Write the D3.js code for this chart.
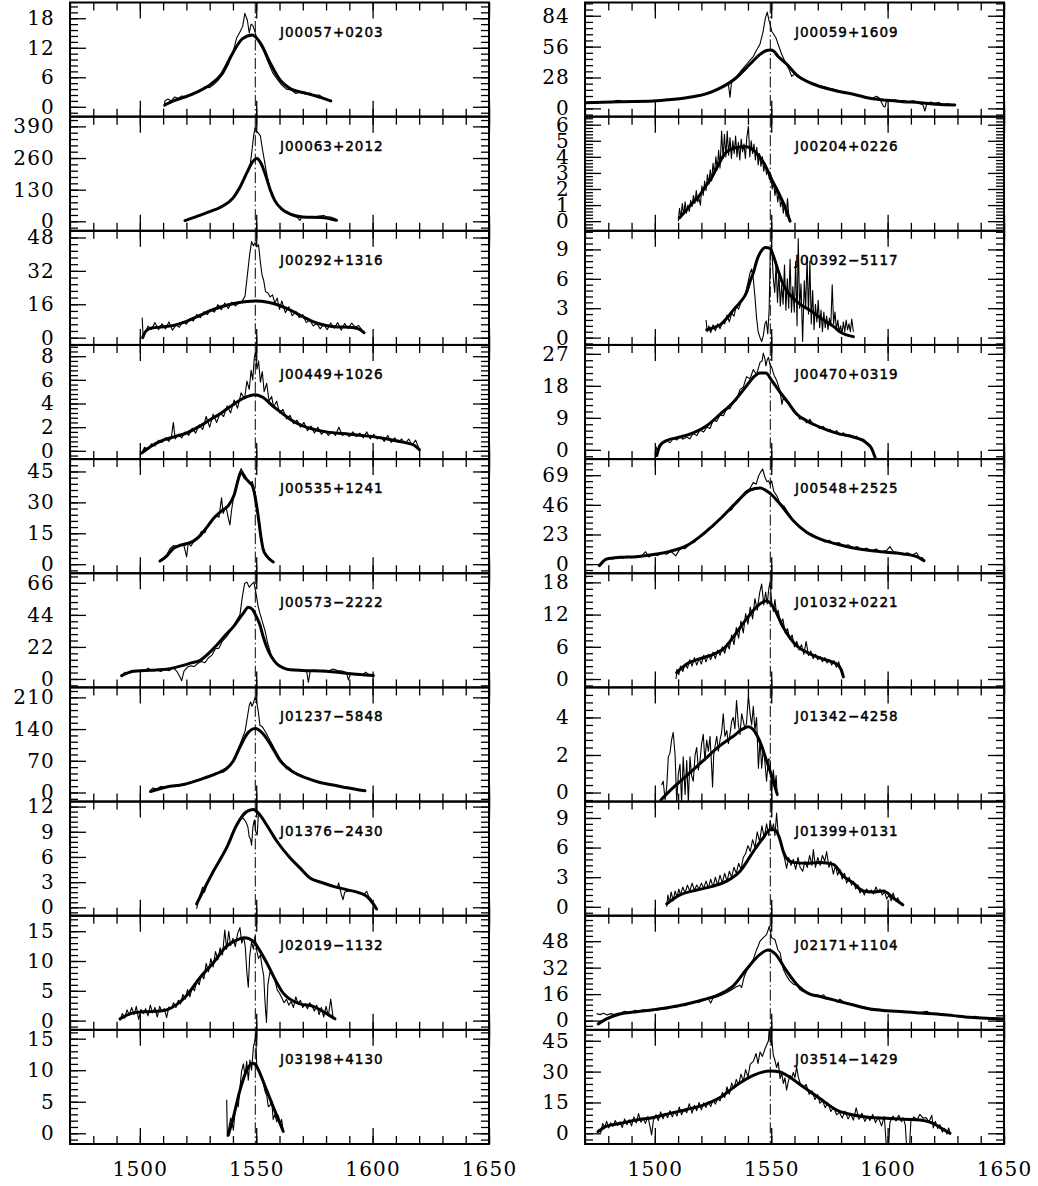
<!DOCTYPE html>
<html lang="en">
<head>
<meta charset="UTF-8">
<title>C IV profiles</title>
<script src="https://cdn.jsdelivr.net/npm/d3@7"></script>
<style>
  body { margin: 0; background: #fff; }
  .frame { fill: none; stroke: #000; stroke-width: 2px; }
  .spec { fill: none; stroke: #000; stroke-width: 1.1px; stroke-linejoin: round; }
  .fit { fill: none; stroke: #000; stroke-width: 3px; stroke-linejoin: round; stroke-linecap: round; }
  .civ { stroke: #000; stroke-width: 1px; stroke-dasharray: 11 3 1.5 3; }
  .tick line { stroke: #000; stroke-width: 1.3px; }
  .ylab text, .xlab text { font-family: "DejaVu Serif", serif; font-size: 20px; letter-spacing: 1.2px; fill: #000; }
  .name { font-family: "DejaVu Sans", sans-serif; font-size: 13.5px; letter-spacing: 1px; fill: #000; stroke: #000; stroke-width: 0.45px; }
</style>
</head>
<body>
<script>
// panel order: left column top->bottom, then right column top->bottom
const names = [
  'J00057+0203', 'J00063+2012', 'J00292+1316', 'J00449+1026', 'J00535+1241',
  'J00573\u22122222', 'J01237\u22125848', 'J01376\u22122430', 'J02019\u22121132', 'J03198+4130',
  'J00059+1609', 'J00204+0226', 'J00392\u22125117', 'J00470+0319', 'J00548+2525',
  'J01032+0221', 'J01342\u22124258', 'J01399+0131', 'J02171+1104', 'J03514\u22121429'
];
const yRanges = [
  [-2.0, 21.2], [-39, 430], [-3.5, 51.2], [-0.7, 8.95], [-4.4, 51],
  [-5.8, 72.6], [-20, 232], [-1.0, 12.6], [-1.55, 17.6], [-1.7, 16.4],
  [-7.5, 96], [-0.6, 6.5], [-0.75, 10.9], [-2.6, 29.5], [-7.1, 81.5],
  [-1.56, 19.7], [-0.48, 5.6], [-0.9, 10.66], [-5.6, 63.4], [-5.2, 50.3]
];
const yTickSteps = [6, 130, 16, 2, 15, 22, 70, 3, 5, 5, 28, 1, 3, 9, 23, 6, 2, 3, 16, 15];
const xRange = [1470, 1650];
const xMajorTicks = [1500, 1550, 1600, 1650];
const lineCenter = 1549.6;

// ---- spectra (thin) and fits (thick), [wavelength, flux]
const thin_J00057 = [[1510.4,0.0],[1510.8,1.2],[1512,1.6],[1513.5,1.2],[1515,2.0],[1516.5,1.7],[1518,2.2],[1520,2.0],[1522,2.6],[1524,3.0],[1526,3.3],[1528,4.1],[1530,3.9],[1532,4.6],[1534,5.6],[1536,6.8],[1538,8.6],[1540,11.0],[1541.6,14.0],[1543,15.2],[1544.2,16.4],[1545.1,19.0],[1546.2,17.6],[1547,15.0],[1547.8,16.8],[1548.6,16.5],[1549.5,15.2],[1550.2,14.0],[1551.5,12.8],[1553,11.6],[1555,9.2],[1557,7.0],[1559,5.6],[1561,4.4],[1563,3.6],[1565,3.4],[1567,2.7],[1569,3.0],[1571,2.6],[1573,2.8],[1575,2.3],[1577,2.4],[1579,1.8],[1581,1.4],[1582.4,1.0]];
const fit_J00057 = [[1510.8,0.4],[1515,1.3],[1520,2.1],[1525,3.1],[1530,4.4],[1535,6.6],[1540,11.0],[1544,13.8],[1548.3,14.6],[1552,12.8],[1556,8.9],[1560,5.6],[1565,3.6],[1570,2.9],[1575,2.3],[1582,1.2]];

const thin_J00063 = [[1519.4,4],[1521,10],[1523,16],[1525,22],[1527,30],[1529,34],[1531,42],[1533,48],[1535,56],[1537,68],[1539,82],[1541,104],[1543,138],[1545,178],[1546.5,210],[1547.5,240],[1548.3,300],[1548.8,345],[1549.5,385],[1550.2,368],[1551,362],[1551.8,350],[1552.6,300],[1553.5,250],[1554.5,195],[1555.5,150],[1557,105],[1559,72],[1561,50],[1563,36],[1565,26],[1567,22],[1568.8,4],[1569.5,18],[1571,20],[1573,20],[1575,19],[1577,22],[1579,24],[1580,20],[1582,18],[1584.5,8]];
const fit_J00063 = [[1519.4,3],[1525,22],[1530,40],[1535,60],[1540,95],[1543,140],[1546,200],[1548.5,245],[1550.2,258],[1552,240],[1554,190],[1556,130],[1558,85],[1561,50],[1565,28],[1570,18],[1578,16],[1584.5,4]];

const thin_J00292 = [[1501,9.6],[1501.4,1.0],[1502.5,3.0],[1503.5,5.5],[1505,4.0],[1506.5,7.2],[1508,3.8],[1509.5,6.6],[1511,4.2],[1512.5,7.5],[1514,3.6],[1515.5,6.0],[1517,5.0],[1518.5,7.8],[1520,6.4],[1521.5,9.0],[1523,8.0],[1524.5,11.2],[1526,9.6],[1527.5,12.4],[1529,11.0],[1530.5,13.6],[1532,12.2],[1533.5,15.8],[1535,13.4],[1536.5,16.6],[1538,14.0],[1539.5,17.0],[1541,15.2],[1542.5,16.6],[1544,17.5],[1545.2,20.0],[1546.2,30],[1547.2,40],[1548,46],[1548.8,44],[1549.5,45.5],[1550.3,43.5],[1551,44.5],[1551.8,36],[1552.5,30],[1553.2,27.5],[1554,22],[1555,21.5],[1556,19.5],[1557,20.5],[1558,16.5],[1559,19],[1560,13.5],[1561,17.6],[1562.5,12.0],[1564,14.8],[1565.5,10.5],[1567,12.6],[1568.5,9.6],[1570,11.0],[1571.5,7.2],[1573,8.5],[1574.5,5.6],[1576,6.8],[1577.5,4.2],[1579,6.4],[1580.5,3.8],[1582,7.0],[1583.5,4.5],[1585,7.2],[1586.5,3.6],[1588,6.8],[1589.5,4.4],[1591,7.0],[1592.5,5.0],[1594,5.8],[1595.5,3.6],[1596.3,2.2]];
const fit_J00292 = [[1501.2,0],[1502.5,3.0],[1505,4.6],[1510,5.2],[1515,6.0],[1520,7.8],[1525,10.2],[1530,12.8],[1535,14.8],[1540,16.2],[1545,17.2],[1550,17.6],[1555,17.0],[1560,15.4],[1565,13.0],[1570,10.0],[1575,7.4],[1580,5.8],[1585,5.1],[1590,5.0],[1594,4.2],[1596.3,2.4]];

const thin_J00449 = [[1500.8,-0.2],[1502,0.3],[1503.5,0.1],[1505,0.6],[1506.5,0.4],[1508,0.9],[1509.5,0.7],[1511,1.1],[1512.5,0.8],[1513.6,1.2],[1514.4,2.4],[1515.2,1.0],[1516.5,1.4],[1518,1.1],[1519.5,1.6],[1521,1.3],[1522.5,1.9],[1524,1.5],[1525.5,2.2],[1527,1.8],[1528.5,2.9],[1530,2.0],[1531.5,3.1],[1533,2.4],[1534.5,3.2],[1536,2.9],[1537.5,3.8],[1539,3.2],[1540.5,4.3],[1542,3.6],[1543.5,4.9],[1545,4.4],[1546,5.9],[1547,5.2],[1547.8,6.8],[1548.5,6.0],[1549.2,7.9],[1549.7,8.3],[1550.3,6.9],[1551,7.6],[1551.8,5.8],[1552.6,6.7],[1553.4,5.0],[1554.5,5.7],[1555.5,4.2],[1556.6,4.6],[1557.5,3.7],[1558.8,4.2],[1560,3.2],[1561.5,3.5],[1563,2.7],[1564.5,3.0],[1566,2.3],[1567.5,2.6],[1569,2.0],[1570.5,2.4],[1572,1.7],[1573.5,2.1],[1575,1.5],[1576.5,2.0],[1578,1.4],[1579.5,1.7],[1581,1.3],[1582.5,1.6],[1584,1.3],[1585.5,2.0],[1587,1.3],[1588.5,1.5],[1590,1.2],[1591.5,1.6],[1593,1.2],[1594.5,1.5],[1596,1.1],[1597.5,1.6],[1599,1.0],[1600.5,1.4],[1602,1.0],[1603.5,1.2],[1605,0.8],[1606.5,1.3],[1608,0.7],[1609.5,1.1],[1611,0.7],[1612.5,1.0],[1614,0.6],[1615.5,1.0],[1617,0.5],[1618.5,0.9],[1620.1,0.1]];
const fit_J00449 = [[1500.8,-0.2],[1505,0.4],[1510,0.9],[1515,1.2],[1520,1.5],[1525,2.0],[1530,2.6],[1535,3.2],[1540,3.9],[1545,4.5],[1549.5,4.75],[1553,4.5],[1557,3.8],[1561,3.2],[1565,2.6],[1570,2.1],[1575,1.8],[1580,1.6],[1590,1.4],[1600,1.2],[1605,1.05],[1610,0.85],[1615,0.65],[1618,0.45],[1620.1,0.1]];

const thin_J00535 = [[1508.7,1.6],[1510,2.8],[1511.5,4.4],[1513,7.6],[1514.4,9.0],[1516,8.6],[1517.5,9.4],[1519,8.8],[1520.1,3.5],[1520.8,10.4],[1522,8.8],[1523.5,11.8],[1525,12.8],[1526.5,16.0],[1528,15.2],[1529.5,19.8],[1531,21.4],[1532.5,23.6],[1534,22.8],[1535.1,32.2],[1535.8,24.6],[1537,28.0],[1538,22.4],[1538.7,19.0],[1539.5,27.0],[1540.5,34.0],[1541.5,38.5],[1542.5,43.5],[1543.5,46.4],[1544.5,44.2],[1545.5,42.6],[1546.5,40.4],[1547.5,38.8],[1548.3,40.2],[1549,37.0],[1549.8,33.0],[1550.5,25.0],[1551.3,17.4],[1552,11.6],[1553,6.8],[1554,4.6],[1555,3.4],[1556,2.8],[1557.3,1.0]];
const fit_J00535 = [[1508.7,1.5],[1511.5,3.9],[1514.4,7.6],[1517,9.0],[1520,9.9],[1523,11.2],[1526,14.0],[1529,18.2],[1532,22.6],[1535,25.8],[1538,28.4],[1540.5,33.6],[1542.5,42.0],[1543.5,44.8],[1545,42.2],[1547,39.8],[1548.5,37.6],[1549.8,31.0],[1551,22.0],[1552,13.5],[1553,7.2],[1554.5,4.0],[1557.3,1.1]];

const thin_J00573 = [[1492.2,2.0],[1493.5,4.5],[1495,4.0],[1496.5,5.8],[1498,5.0],[1500,6.0],[1502,5.2],[1503.5,7.4],[1505,5.6],[1507,6.4],[1509,5.2],[1511,6.8],[1512.5,5.6],[1514.4,7.6],[1516,5.0],[1517.2,1.5],[1518,-1.2],[1519,5.6],[1520.5,8.2],[1522,9.0],[1523.5,8.6],[1525,10.8],[1526.5,12.0],[1528,11.2],[1529.5,14.6],[1531,16.4],[1532.5,20.8],[1534,21.2],[1535.5,26.0],[1537,28.6],[1538.5,32.0],[1540,35.4],[1541.5,40.0],[1543,44.0],[1544,56.0],[1545,65.5],[1546,66.5],[1547,63.0],[1548,65.0],[1549,66.5],[1549.9,59.0],[1550.8,50.0],[1551.6,45.0],[1552.5,40.0],[1553.8,33.0],[1555,24.0],[1556.5,16.0],[1558,11.6],[1560,8.4],[1562,7.0],[1564,6.0],[1566,6.6],[1568,5.6],[1570,6.4],[1571.7,5.0],[1572.4,-2.3],[1573.2,5.4],[1575,6.2],[1577,5.4],[1579,6.0],[1581,5.4],[1583,6.8],[1585,5.8],[1587,5.4],[1588.8,4.2],[1589.6,-0.7],[1590.5,3.6],[1592,3.0],[1594,3.8],[1595.5,2.6],[1597,4.6],[1598.5,3.0],[1600.3,2.0]];
const fit_J00573 = [[1492.2,2.3],[1497.2,5.3],[1502,5.8],[1507,6.2],[1511.5,6.7],[1515,7.8],[1518.7,9.3],[1522,11.0],[1525.8,12.7],[1530,18.2],[1533,23.2],[1537,30.5],[1540.2,35.9],[1542.5,41.0],[1544.5,45.2],[1546.6,49.3],[1548.5,47.5],[1550,43.0],[1551.6,37.0],[1553,29.0],[1554.5,22.0],[1556.6,15.0],[1558.8,10.4],[1561.6,7.6],[1564.5,6.3],[1570,5.8],[1580,5.3],[1588.8,3.9],[1594.6,3.0],[1600.3,2.3]];

const thin_J01237 = [[1504.6,4],[1505.5,10],[1507.2,8],[1509,13],[1511.5,12],[1513.5,15],[1515.1,13],[1517,17],[1518.7,16],[1520.5,19],[1522.3,22],[1524,25],[1525.8,27],[1527.5,31],[1529.4,36],[1531,38],[1533,42],[1534.5,47],[1535.5,44],[1537.3,50],[1538.7,58],[1540.2,72],[1541.5,88],[1543,106],[1544.2,122],[1545.2,135],[1546,160],[1547,192],[1547.6,200],[1548.2,190],[1548.8,198],[1549.5,210],[1550.2,200],[1550.9,178],[1551.6,148],[1552.4,146],[1553,142],[1554.2,132],[1555.2,122],[1556.5,110],[1558,95],[1560.2,75],[1562,62],[1563.1,52],[1564,56],[1565.9,45],[1568,40],[1570,34],[1572,31],[1574.5,27],[1577.4,21],[1580.3,19],[1583.1,16],[1586,13],[1588.9,12],[1591.7,9],[1594.6,6],[1596.7,3]];
const fit_J01237 = [[1504.6,2.2],[1511.5,12.0],[1518.7,17.5],[1525.8,28.5],[1533,42],[1537.3,53],[1540.2,70],[1543,100],[1545.9,128],[1549.5,141],[1553,129],[1555.9,108],[1560.2,71],[1565.9,45],[1571.7,31.7],[1577.4,22],[1583.1,16.5],[1588.9,10.5],[1596.7,3.7]];

const thin_J01376 = [[1524.4,-0.2],[1525.2,0.8],[1526,1.6],[1527,2.4],[1527.8,1.8],[1528.7,2.6],[1530,3.5],[1531.6,4.4],[1533,5.0],[1534.4,5.8],[1536,6.5],[1537.3,7.2],[1538.8,8.1],[1540.2,8.9],[1541.6,9.8],[1543,10.5],[1544.5,10.6],[1545.5,10.2],[1546.4,9.6],[1547,8.4],[1547.6,8.1],[1548,7.4],[1548.6,9.6],[1549.2,10.4],[1549.8,9.0],[1550.4,8.6],[1550.9,10.9],[1551.6,11.0],[1553,10.4],[1554.5,9.8],[1556.5,8.8],[1558.8,7.9],[1561.5,6.9],[1564.5,5.9],[1566.5,5.3],[1568.8,4.6],[1571,4.0],[1573.1,3.5],[1575,3.3],[1577,3.1],[1579,2.9],[1581,2.7],[1583.1,2.6],[1584.8,2.3],[1585.4,2.9],[1586.5,1.6],[1587.3,0.9],[1588,1.8],[1590,2.0],[1592,1.9],[1594.6,1.7],[1596.5,1.6],[1597.5,1.9],[1598.3,1.3],[1599.3,1.0],[1600.3,0.4],[1601.7,-0.2]];
const fit_J01376 = [[1524.4,0.4],[1527.3,2.0],[1531.6,4.3],[1537.3,7.1],[1541.6,9.8],[1545.9,11.4],[1548.8,11.65],[1551.6,11.0],[1554.5,9.8],[1558.8,7.9],[1564.5,5.9],[1568.8,4.7],[1573.1,3.5],[1578.8,2.9],[1583.1,2.5],[1588.8,2.1],[1594.6,1.7],[1597.5,1.3],[1600.3,0.4],[1601.7,-0.2]];

const thin_J02019 = [[1491.5,0.0],[1492.5,1.2],[1493.5,0.4],[1494.5,1.8],[1495.5,0.9],[1496.5,2.2],[1497.5,1.0],[1498.5,2.4],[1499.5,0.2],[1500.5,1.9],[1501.5,1.2],[1502.5,2.0],[1503.5,0.8],[1504.5,2.6],[1505.5,1.3],[1506.5,2.2],[1507.5,0.6],[1508.5,2.4],[1509.5,1.5],[1510.5,2.0],[1511.5,0.5],[1512.5,2.3],[1513.5,2.0],[1514.5,3.0],[1515.5,2.2],[1516.5,3.4],[1517.5,2.8],[1518.5,4.4],[1519.5,3.6],[1520.5,5.2],[1521.5,4.0],[1522.5,5.6],[1523.5,5.0],[1524.5,6.8],[1525.5,6.0],[1526.5,7.8],[1527.5,7.0],[1528.5,9.6],[1529.5,8.2],[1530.5,10.4],[1531.5,9.0],[1532.5,11.6],[1533.5,10.2],[1534.5,12.2],[1535.5,11.0],[1536.5,15.2],[1537.3,12.0],[1538.2,15.0],[1539,12.6],[1540,13.8],[1541,12.4],[1542,14.6],[1543,15.6],[1543.8,13.0],[1544.6,14.0],[1545.3,12.4],[1546,8.0],[1546.6,5.6],[1547.2,10.8],[1548,13.2],[1548.8,12.0],[1549.5,14.2],[1550.2,11.8],[1551,10.4],[1551.8,11.0],[1552.5,9.0],[1553.2,7.6],[1553.8,3.0],[1554.4,-0.3],[1555,6.0],[1555.9,8.2],[1557,7.6],[1558,6.8],[1559,5.2],[1560,4.6],[1561,3.8],[1562,3.0],[1563,3.6],[1564,2.6],[1565,3.2],[1566,2.2],[1567,4.0],[1568,2.8],[1569,3.4],[1570,2.2],[1571,2.8],[1572,2.0],[1573,3.0],[1574,2.4],[1575,1.6],[1576,2.6],[1577,1.0],[1578,2.2],[1579,0.6],[1580,2.4],[1581,0.8],[1582,3.6],[1583,0.6],[1583.8,0.3]];
const fit_J02019 = [[1491.5,0.3],[1497.2,1.3],[1502.9,1.5],[1508.7,1.6],[1511.5,1.8],[1515.5,2.6],[1520.1,4.2],[1525.8,7.2],[1531.6,9.7],[1537.3,12.5],[1541.5,13.5],[1545,13.9],[1548.8,13.3],[1551.6,11.7],[1554.5,9.7],[1558.8,6.4],[1561.6,4.6],[1564.5,3.6],[1568.8,2.8],[1574.5,2.4],[1578.8,1.5],[1583.8,0.3]];

const thin_J03198 = [[1537.3,5.3],[1537.6,-0.5],[1538.3,1.0],[1539,2.4],[1539.6,1.6],[1540.2,0.5],[1540.9,3.4],[1541.6,5.0],[1542.3,4.2],[1543,7.2],[1543.7,9.8],[1544.5,11.0],[1545.2,9.0],[1545.9,11.4],[1546.6,8.4],[1547.3,11.6],[1548,10.0],[1548.8,13.7],[1549.5,14.8],[1549.8,15.8],[1550.2,11.0],[1550.9,10.4],[1551.6,9.5],[1552.3,8.8],[1553,8.0],[1553.8,6.6],[1554.5,6.0],[1555.2,4.2],[1555.9,4.4],[1556.6,5.3],[1557.3,2.2],[1558,3.0],[1558.8,1.8],[1559.5,2.8],[1560.2,1.4],[1560.9,2.2],[1561.6,0.4]];
const fit_J03198 = [[1538,-0.3],[1540.2,2.6],[1543,6.8],[1545.9,10.0],[1548.5,11.1],[1549.8,10.8],[1551.6,9.5],[1554.5,6.8],[1557.3,4.2],[1560.2,1.6],[1561.6,0.3]];

const thin_J00059 = [[1470,4.6],[1472,5.8],[1475,5.0],[1478,6.2],[1481,5.2],[1484,7.4],[1487,6.0],[1490,6.6],[1493,5.6],[1496,6.4],[1499,7.2],[1502,6.6],[1505,8.2],[1508,7.8],[1511,9.2],[1514,9.0],[1517,11.0],[1520,11.6],[1522.3,13.8],[1524,14.2],[1526,16.4],[1528,17.8],[1530,21.0],[1531.6,22.0],[1532.3,10.0],[1533,24.8],[1535.1,28.4],[1537,34.0],[1539.4,40.0],[1541,44.0],[1542.3,47.0],[1543.5,52.0],[1545.2,58.4],[1546.6,70.6],[1547.5,82.0],[1548.3,87.3],[1549,80.0],[1549.5,76.7],[1550.2,70.0],[1550.9,67.6],[1552,64.0],[1553,58.0],[1554,52.0],[1554.5,49.0],[1556,42.0],[1557.5,36.0],[1558.8,29.0],[1560,31.0],[1561.5,28.4],[1563,26.4],[1565,25.0],[1567,23.6],[1569,22.4],[1571,20.4],[1573,19.6],[1575,18.2],[1577,17.2],[1579,16.0],[1581,14.8],[1583,14.0],[1585,12.6],[1587,12.0],[1589,10.6],[1591,10.0],[1593,9.0],[1595.3,11.0],[1596.5,9.2],[1598.2,2.0],[1598.9,1.2],[1599.6,7.6],[1601,6.8],[1603,7.8],[1605,6.6],[1607,7.2],[1609,6.0],[1611,6.8],[1613,5.4],[1615.2,3.0],[1616,-2.4],[1616.8,4.0],[1618.5,5.8],[1620,4.6],[1622,5.4],[1624,3.6],[1626,4.2],[1628,3.2],[1628.9,3.6]];
const fit_J00059 = [[1470,5.2],[1485,6.1],[1499.4,6.7],[1507,8.0],[1513.7,9.7],[1518,11.2],[1522.3,13.4],[1528,18.3],[1535.1,28.0],[1539.4,37.0],[1542.3,43.2],[1545.2,49.0],[1548,52.5],[1549.5,53.0],[1551,52.0],[1553,47.0],[1556.6,40.2],[1560.9,30.4],[1568.1,21.9],[1578.1,15.8],[1585.3,12.8],[1592.4,9.1],[1599.6,7.3],[1606.7,6.1],[1613.9,5.2],[1621.1,3.7],[1628.9,3.0]];

const thin_J00204 = [[1510.1,0.0],[1510.6,0.8],[1511.2,0.2],[1511.8,1.1],[1512.4,0.4],[1513,1.2],[1513.6,0.5],[1514.2,1.0],[1514.8,0.6],[1515.4,1.3],[1516,0.9],[1516.6,1.6],[1517.2,1.1],[1517.8,1.9],[1518.4,1.2],[1519,1.4],[1519.6,1.0],[1520.2,2.2],[1520.8,1.6],[1521.4,2.5],[1522,1.9],[1522.6,2.9],[1523.2,2.3],[1523.8,3.2],[1524.4,2.5],[1525,3.6],[1525.6,2.9],[1526.2,4.0],[1526.8,3.2],[1527.4,4.4],[1528,3.3],[1528.7,5.6],[1529.3,3.9],[1529.9,5.4],[1530.5,4.0],[1531.1,5.6],[1531.7,4.1],[1532.3,5.2],[1532.9,3.9],[1533.5,5.0],[1534.1,4.2],[1534.7,5.3],[1535.3,4.0],[1535.9,4.9],[1536.5,3.8],[1537.1,5.1],[1537.7,4.3],[1538.3,4.8],[1538.9,3.9],[1539.5,5.2],[1540.2,5.9],[1540.8,4.0],[1541.4,5.0],[1542,4.2],[1542.6,4.8],[1543.2,3.8],[1543.8,4.6],[1544.4,3.5],[1545,4.2],[1545.6,3.4],[1546.2,4.0],[1546.8,3.1],[1547.4,3.6],[1548,2.9],[1548.6,3.2],[1549.2,2.6],[1549.8,2.9],[1550.4,2.0],[1551,2.4],[1551.6,1.6],[1552.2,2.1],[1552.8,1.2],[1553.4,1.8],[1554,0.9],[1554.6,1.3],[1555.2,0.5],[1555.8,1.1],[1556.4,0.3],[1557,1.4],[1557.6,0.2],[1558.1,0.0]];
const fit_J00204 = [[1510.5,0.2],[1513,0.6],[1516,1.1],[1518.7,1.5],[1521.5,2.1],[1524.4,2.7],[1527.3,3.5],[1530.1,4.2],[1533,4.5],[1535.9,4.6],[1538.7,4.65],[1541.6,4.5],[1544.5,4.1],[1547.3,3.5],[1550.2,2.6],[1553,1.8],[1555.9,0.9],[1558.1,0.0]];

const thin_J00392 = [[1522,1.8],[1522.5,0.6],[1523.2,1.2],[1524,0.5],[1525,1.3],[1526,0.7],[1527,1.4],[1528,0.9],[1529,1.6],[1530,1.4],[1531,2.3],[1532,1.6],[1533,2.5],[1534,2.2],[1535,3.2],[1536,2.9],[1537,3.6],[1538,4.0],[1539,4.6],[1540,5.6],[1540.9,6.6],[1541.6,7.0],[1542.3,6.0],[1543,4.2],[1543.7,2.0],[1544.4,0.6],[1545.2,0.0],[1545.9,-0.4],[1546.6,0.2],[1547.3,1.4],[1547.9,1.7],[1548.5,0.4],[1549.1,2.8],[1549.6,8.7],[1550.2,9.4],[1550.9,6.0],[1551.5,4.6],[1552.1,7.5],[1552.7,3.6],[1553.3,6.6],[1553.9,3.2],[1554.5,5.4],[1555.1,3.4],[1555.7,7.4],[1556.3,2.8],[1556.9,6.0],[1557.5,3.0],[1558.1,8.0],[1558.7,2.6],[1559.3,5.2],[1559.9,2.6],[1560.5,7.8],[1561.1,1.2],[1561.6,10.1],[1562.2,3.0],[1562.8,5.5],[1563.5,-0.4],[1564.2,5.8],[1564.8,3.0],[1565.4,8.2],[1566,2.4],[1566.6,7.8],[1567.2,1.4],[1567.8,4.8],[1568.4,0.8],[1569,3.4],[1569.6,1.6],[1570.2,3.8],[1570.8,1.0],[1571.4,2.8],[1572,0.6],[1572.6,2.6],[1573.2,1.0],[1573.8,2.2],[1574.4,0.8],[1575,2.0],[1575.6,1.2],[1576.2,5.4],[1576.8,1.4],[1577.4,2.6],[1578,0.8],[1578.6,1.8],[1579.2,0.6],[1579.8,1.2],[1580.4,0.4],[1581,1.6],[1581.6,0.6],[1582.2,1.8],[1582.8,0.8],[1583.4,1.4],[1584,0.6],[1584.6,1.9],[1585.3,0.6]];
const fit_J00392 = [[1522.3,0.8],[1525,1.0],[1528,1.3],[1531,2.0],[1533.7,2.8],[1536.6,3.6],[1539.4,4.6],[1541,5.8],[1542.3,6.6],[1544,8.0],[1545.9,8.9],[1547.5,9.2],[1549.5,9.1],[1551,8.3],[1553,6.8],[1555.2,5.4],[1557.5,4.5],[1559.5,4.0],[1563,3.3],[1566.6,2.8],[1570,2.2],[1573.8,1.6],[1577,1.1],[1579.5,0.6],[1582,0.3],[1585.3,0.1]];

const thin_J00470 = [[1500.5,1.0],[1501,-0.4],[1502.2,1.6],[1503.5,2.2],[1505,2.6],[1506.5,2.0],[1508,3.2],[1509.5,2.8],[1510.8,3.8],[1512,3.0],[1513.7,3.6],[1515,3.1],[1516.5,4.6],[1518,4.0],[1519.4,5.6],[1521,5.0],[1522.3,6.4],[1523.7,6.0],[1525.1,8.4],[1526.5,8.0],[1528,9.8],[1529.5,9.6],[1530.9,11.6],[1532.3,11.6],[1533.7,13.4],[1535.1,14.0],[1536.6,17.0],[1538,17.6],[1539.4,20.6],[1540.9,20.0],[1542.3,22.6],[1543.7,21.2],[1545.2,24.6],[1546.1,25.0],[1546.6,27.2],[1547.3,25.6],[1547.7,23.6],[1548.3,25.4],[1548.8,26.0],[1549.5,24.0],[1550.2,23.2],[1551.2,21.0],[1552.3,19.6],[1553.1,18.0],[1553.8,16.6],[1554.6,12.8],[1555.2,14.6],[1556.6,13.4],[1558,12.6],[1559.5,10.8],[1560.9,10.4],[1562.3,8.6],[1563.8,9.0],[1565.2,7.6],[1566.6,8.6],[1568,7.0],[1569.5,6.8],[1570.9,6.0],[1572.3,6.6],[1573.8,5.4],[1575.2,5.8],[1576.7,4.8],[1578.1,5.4],[1579.5,4.2],[1581,4.8],[1582.4,3.8],[1583.8,4.2],[1585.3,3.4],[1586.7,3.8],[1588.1,2.8],[1589.6,3.0],[1591,2.0],[1592.4,1.4],[1593.3,0.0],[1594.6,-2.0]];
const fit_J00470 = [[1500.8,-1.6],[1502.2,1.2],[1505,2.6],[1510.8,3.6],[1516.5,4.8],[1522.3,6.8],[1528,10.0],[1533.7,13.4],[1539.4,18.0],[1542.3,20.4],[1545.2,21.6],[1547.7,21.6],[1550.2,19.5],[1553.8,16.2],[1556.6,13.9],[1560.9,10.1],[1565.2,8.2],[1570.9,6.4],[1578.1,4.7],[1585.3,3.6],[1589,2.8],[1591,1.9],[1593,0.5],[1594.6,-2.1]];

const thin_J00548 = [[1476.2,-1.0],[1477.5,2.2],[1479,3.6],[1480.5,5.0],[1482,4.0],[1484,5.8],[1486,4.6],[1488,6.0],[1490,5.0],[1492,6.2],[1494,5.6],[1496,9.6],[1497.5,5.4],[1499.4,8.2],[1501,6.6],[1503,8.4],[1505,7.6],[1507,9.8],[1509,6.4],[1511,12.4],[1513,12.0],[1515,15.6],[1517,17.0],[1519,20.8],[1521,23.8],[1523,27.8],[1525,29.0],[1527,33.4],[1529,36.6],[1531,40.4],[1533,42.2],[1535,48.8],[1537,52.0],[1539,56.4],[1540.9,58.8],[1542.3,63.4],[1543.5,62.0],[1544.5,68.0],[1545.3,71.0],[1546.3,73.8],[1547.3,67.4],[1548.2,64.0],[1548.8,64.7],[1549.5,62.0],[1550.2,64.6],[1551,57.0],[1552.5,52.6],[1553.8,47.0],[1555.5,45.0],[1557.5,39.2],[1559.5,34.0],[1561.5,30.8],[1563.5,27.4],[1565.2,24.4],[1567,23.8],[1569,20.6],[1570.9,19.8],[1573,17.2],[1575,18.4],[1577,15.4],[1579,16.8],[1581,13.6],[1583,15.0],[1585.3,12.4],[1587,13.6],[1589,11.0],[1591,12.4],[1593,10.2],[1595,11.8],[1597,9.4],[1599.6,10.6],[1601,13.6],[1602.5,9.6],[1604.5,9.0],[1606.7,7.6],[1608.5,8.8],[1610.5,7.0],[1612.5,8.8],[1613.9,4.4],[1615,5.0],[1615.6,2.2]];
const fit_J00548 = [[1476.2,-1.2],[1479.3,4.0],[1485,5.3],[1492.2,5.8],[1499.4,7.4],[1506.5,9.9],[1513.7,14.3],[1520.8,23.4],[1528,35.0],[1535.1,47.9],[1540.9,57.5],[1545.2,59.0],[1549.5,54.9],[1553.8,46.6],[1559.5,33.7],[1565.2,24.7],[1570.9,19.5],[1578.1,15.6],[1585.3,12.5],[1592.4,10.5],[1599.6,9.2],[1606.7,7.9],[1612.5,5.8],[1615.6,2.7]];

const thin_J01032 = [[1509.1,0.0],[1509.5,1.8],[1510.3,0.8],[1511,2.4],[1512,1.4],[1513,2.8],[1514,2.0],[1515,3.6],[1516,2.4],[1517,4.0],[1518,2.6],[1519,3.8],[1520,2.8],[1521,4.4],[1522,3.2],[1523,4.6],[1524,3.6],[1525,5.0],[1526,3.8],[1527,5.4],[1528,4.4],[1529,6.0],[1530,4.8],[1531,6.6],[1532,5.6],[1533,8.2],[1534,6.4],[1535,9.6],[1536,7.6],[1537,10.8],[1538,8.6],[1539,12.2],[1540,10.2],[1541,13.4],[1542,11.2],[1543,15.0],[1544,12.8],[1545,16.0],[1545.9,17.7],[1546.8,13.8],[1547.6,16.2],[1548.3,14.0],[1549,17.0],[1549.5,18.0],[1550.2,14.4],[1550.9,12.6],[1551.6,14.8],[1552.3,12.0],[1553,12.8],[1554,10.2],[1555,11.2],[1556,8.6],[1557,9.4],[1558,7.4],[1559,8.2],[1560,6.0],[1561,7.0],[1562,5.4],[1563,6.4],[1564,4.6],[1565,7.0],[1566,4.4],[1567,5.2],[1568,3.8],[1569,4.6],[1570,3.6],[1571,4.2],[1572,3.2],[1573,4.0],[1574,3.0],[1575,3.6],[1576,2.6],[1577,3.4],[1578,2.2],[1579,3.2],[1580,1.6],[1581,0.2]];
const fit_J01032 = [[1509.4,1.2],[1513.7,2.8],[1519.4,3.8],[1525.1,4.6],[1530,5.8],[1533.7,7.8],[1539.4,11.2],[1545.2,14.0],[1548,14.6],[1550.9,13.4],[1555.2,9.6],[1560.9,6.2],[1566.6,4.7],[1572.4,3.7],[1578.1,2.8],[1580,1.8],[1581,0.4]];

const thin_J01342 = [[1502.9,0.4],[1503.6,0.6],[1504.4,-0.4],[1505.1,0.3],[1505.8,1.9],[1506.5,2.1],[1507.2,2.8],[1507.9,3.2],[1508.7,2.0],[1509.4,-0.5],[1510.1,1.0],[1510.8,1.5],[1511.5,-0.5],[1512.2,1.9],[1513,-0.1],[1513.7,1.7],[1514.4,-0.5],[1515.1,1.9],[1515.8,0.9],[1516.5,0.6],[1517.3,2.0],[1518,2.4],[1518.7,1.2],[1519.4,1.7],[1520.1,2.6],[1520.8,3.1],[1521.5,1.7],[1522.3,2.8],[1523,2.2],[1523.7,3.0],[1524.4,1.4],[1524.8,0.3],[1525.3,2.0],[1525.8,2.4],[1526.6,3.0],[1527.3,2.2],[1528,2.8],[1528.7,3.2],[1529.4,4.2],[1530.1,3.0],[1530.9,3.3],[1531.6,2.6],[1532.3,3.1],[1533,3.8],[1533.7,4.0],[1534.4,3.4],[1535.1,4.9],[1535.9,3.6],[1536.6,3.1],[1537.3,4.2],[1538,3.8],[1538.7,3.4],[1539.4,3.7],[1540.2,5.2],[1540.9,4.2],[1541.6,3.6],[1542.3,4.6],[1543,3.3],[1543.7,4.0],[1544.5,1.3],[1545.2,2.8],[1545.9,1.3],[1546.6,2.4],[1547.3,1.6],[1548,0.6],[1548.8,1.8],[1549.5,1.7],[1550.2,0.1],[1550.9,1.2],[1551.6,0.3],[1552.1,0.9],[1552.6,-0.2]];
const fit_J01342 = [[1502.6,-0.4],[1506.5,0.1],[1513.7,0.9],[1520.8,1.7],[1528,2.5],[1533.7,3.0],[1538,3.4],[1540.2,3.5],[1542.3,3.35],[1545.2,2.7],[1548,1.7],[1550.9,0.6],[1552.6,-0.1]];

const thin_J01399 = [[1505.1,0.0],[1505.6,1.2],[1506.3,0.4],[1507,1.5],[1507.9,0.6],[1508.7,1.6],[1509.5,1.0],[1510.3,1.8],[1511,1.2],[1512,2.0],[1513,1.4],[1514,2.2],[1515,1.6],[1516,2.4],[1517,1.7],[1518,2.2],[1519,1.8],[1520,2.4],[1521,1.9],[1522,2.6],[1523,1.9],[1524,2.8],[1525,2.0],[1526,3.0],[1527,2.2],[1528,3.2],[1529,2.4],[1530,3.4],[1531,2.6],[1532,3.6],[1533,3.0],[1534,4.0],[1535,3.4],[1536,4.4],[1537,3.8],[1538,5.0],[1539,5.4],[1540,6.2],[1541,5.6],[1542,6.8],[1543,6.0],[1544,7.6],[1545,6.6],[1546,8.2],[1547,7.0],[1548,8.4],[1549,7.2],[1549.5,8.7],[1550.3,7.8],[1551,8.4],[1551.6,7.2],[1552.3,9.5],[1553,7.4],[1553.8,7.0],[1554.5,6.0],[1555.2,5.4],[1556,4.6],[1556.6,3.9],[1557.5,5.0],[1558.5,4.2],[1559.5,4.8],[1560.5,3.8],[1561.5,5.0],[1562.4,4.0],[1563.5,3.6],[1564.5,4.6],[1565.5,4.0],[1566.5,5.2],[1567.5,4.2],[1568.1,5.8],[1569,4.0],[1570,5.0],[1571,4.2],[1572,5.2],[1573,4.6],[1573.8,5.6],[1574.8,4.0],[1575.6,4.6],[1576.7,3.3],[1577.6,4.2],[1578.5,3.2],[1579.5,3.8],[1580.5,2.8],[1581.5,3.4],[1582.4,2.4],[1583.5,3.0],[1584.5,2.2],[1585.3,2.6],[1586.3,1.8],[1587.3,2.2],[1588.1,1.4],[1589,1.8],[1590,1.2],[1591,1.8],[1592,1.4],[1593,1.7],[1593.9,1.3],[1595,2.0],[1596,1.5],[1596.7,1.8],[1597.7,1.2],[1598.7,1.5],[1599.6,0.8],[1600.6,1.2],[1601.5,0.6],[1602.4,1.4],[1603.4,0.6],[1604.4,0.9],[1605.3,0.4],[1606.5,0.2]];
const fit_J01399 = [[1505.1,0.3],[1510.8,1.2],[1518,1.7],[1525.1,2.1],[1530.9,2.6],[1536.6,3.6],[1542.3,5.6],[1546.6,7.0],[1549.5,7.8],[1551.5,7.8],[1553.5,7.0],[1555.2,5.6],[1557,4.8],[1559.5,4.5],[1565.2,4.4],[1570.9,4.5],[1576.7,4.3],[1581,3.1],[1585.3,2.4],[1589.5,1.6],[1593.9,1.5],[1598.2,1.6],[1602.4,0.9],[1606.5,0.2]];

const thin_J02171 = [[1475,4.2],[1476.5,3.6],[1478,4.4],[1479.5,3.4],[1481,4.2],[1482.5,3.6],[1484,4.4],[1485.5,4.6],[1487,5.6],[1488.5,5.0],[1490,4.8],[1491.5,6.2],[1493,5.4],[1495,6.6],[1497,5.8],[1499.4,6.8],[1501,6.2],[1503,7.4],[1505,7.0],[1507,8.4],[1509,8.0],[1511,9.4],[1513,9.0],[1515,10.6],[1517,11.4],[1519,11.0],[1521,12.6],[1523,13.0],[1524,10.6],[1525,13.6],[1527,14.4],[1529,15.6],[1531,17.0],[1533,18.6],[1535,20.4],[1536.5,21.4],[1537.3,20.0],[1538.3,26.0],[1539.4,30.0],[1540.9,34.0],[1542.3,37.0],[1543.5,42.0],[1545.2,48.0],[1546.5,50.0],[1548,52.0],[1549.2,57.0],[1550.2,50.0],[1551.6,49.0],[1552.8,43.0],[1553.8,41.0],[1555.2,31.0],[1556.6,27.0],[1558,24.0],[1559.5,22.0],[1560.9,21.4],[1562.4,18.6],[1563.8,17.4],[1565.2,16.8],[1566.6,16.2],[1568,15.4],[1569.5,15.6],[1570.9,14.4],[1572.5,15.6],[1574,13.0],[1575.5,13.4],[1577,12.6],[1578.5,11.0],[1579.5,13.0],[1581,11.4],[1583,10.6],[1585.3,9.8],[1588,8.8],[1590,8.2],[1592.4,7.4],[1595,7.0],[1597.5,6.6],[1599.6,6.2],[1602,6.0],[1604.5,5.8],[1606.7,5.6],[1609,5.2],[1611.5,5.0],[1613.9,4.8],[1616.8,5.6],[1618.5,4.4],[1621.1,4.0],[1624,3.8],[1626,3.4],[1628.2,3.0],[1630.5,2.8],[1633,2.4],[1635.4,2.2],[1637.5,2.6],[1639.5,1.8],[1642.6,1.4],[1645,1.6],[1647.5,1.2],[1650,0.8]];
const fit_J02171 = [[1475.7,-2.0],[1479.3,1.0],[1485,4.0],[1492.2,5.4],[1499.4,6.6],[1506.5,8.0],[1513.7,10.0],[1520.8,12.6],[1528,16.0],[1533.7,21.0],[1539.4,31.0],[1545.2,40.0],[1548.6,42.6],[1551.6,40.5],[1556.6,30.0],[1560.9,22.0],[1566.6,16.0],[1570.9,14.6],[1579.5,11.5],[1585.3,9.4],[1592.4,7.0],[1599.6,6.0],[1606.7,5.4],[1613.9,4.6],[1621.1,4.0],[1628.2,3.0],[1635.4,2.0],[1642.6,1.4],[1650,1.0]];

const thin_J03514 = [[1475.3,0.2],[1476,2.0],[1476.8,0.4],[1477.6,4.8],[1478.4,3.0],[1479.3,5.8],[1480.2,2.6],[1481,5.0],[1482,3.4],[1483,6.2],[1484,3.8],[1485,5.6],[1486,2.8],[1487,7.0],[1488,4.2],[1489,6.6],[1490,3.6],[1491,8.0],[1492,5.0],[1493,9.6],[1494,5.4],[1495,7.2],[1496,4.8],[1497,8.2],[1498,3.0],[1498.6,-0.8],[1499.4,6.4],[1500.5,9.0],[1501.5,6.2],[1502.5,10.4],[1503.5,7.0],[1504.5,9.8],[1505.5,7.6],[1506.5,11.0],[1507.5,8.0],[1508.5,10.6],[1509.5,8.4],[1510.5,12.8],[1511.5,9.0],[1512.5,11.6],[1513.7,10.0],[1514.8,14.4],[1516,9.8],[1517,13.6],[1518,11.0],[1519,15.0],[1520,11.4],[1521,14.8],[1522,12.6],[1523,15.4],[1524,13.0],[1525,16.2],[1526,14.2],[1527,16.8],[1528,15.8],[1529,19.8],[1530,17.4],[1531,22.6],[1532,19.0],[1533,24.4],[1534,21.8],[1535,26.2],[1536,23.6],[1537,28.8],[1538,25.4],[1539,31.0],[1540,27.4],[1541,33.6],[1542.3,35.0],[1543.5,38.8],[1544.3,34.0],[1545.2,39.5],[1546.2,37.4],[1547.3,41.0],[1548.2,43.4],[1548.8,45.0],[1549.2,51.6],[1549.6,44.0],[1550.2,46.0],[1550.9,38.0],[1551.6,35.5],[1552.3,32.0],[1553,34.6],[1553.8,26.6],[1554.5,29.4],[1555.2,24.2],[1555.9,27.0],[1556.6,21.0],[1557.3,25.0],[1558.1,28.2],[1558.8,26.8],[1559.5,29.6],[1560.2,27.0],[1560.9,32.3],[1561.6,27.6],[1562.4,24.4],[1563.8,22.0],[1565,23.8],[1566.3,19.0],[1567.5,20.6],[1568.8,16.4],[1570,18.8],[1570.9,14.6],[1572,16.0],[1573.2,12.4],[1574.4,14.8],[1575.6,10.6],[1576.8,12.6],[1578.1,9.0],[1579.3,10.2],[1580.5,7.4],[1581.7,10.8],[1583,7.0],[1584.2,9.4],[1585.3,6.4],[1586.5,12.4],[1587.7,6.8],[1589,9.8],[1590.2,5.8],[1591.4,8.2],[1592.4,6.2],[1593.6,9.2],[1594.8,5.2],[1596,7.8],[1597.4,3.6],[1598.6,8.2],[1599.6,-9.0],[1600.3,-9.0],[1601,5.4],[1602.3,8.4],[1603.6,6.0],[1604.8,8.8],[1606,5.6],[1606.7,7.6],[1607.6,4.0],[1608.3,-9.0],[1609.3,-9.0],[1610,6.0],[1611.3,8.0],[1612.6,6.6],[1613.9,9.2],[1615.2,7.4],[1616.5,7.6],[1617.8,5.6],[1619,8.8],[1619.6,2.6],[1620.5,5.8],[1621.5,2.4],[1622.5,4.2],[1623.5,0.6],[1624.5,2.4],[1625.5,-0.4],[1626.2,2.6],[1626.8,0.4]];
const fit_J03514 = [[1475.6,0.8],[1479.3,3.5],[1485,4.8],[1492.2,6.5],[1499.4,7.7],[1506.5,9.7],[1513.7,11.6],[1520.8,13.7],[1528,17.4],[1535.1,23.4],[1542.3,28.2],[1549.5,30.3],[1553.8,29.8],[1556.6,28.2],[1563.8,22.6],[1570.9,16.9],[1578.1,11.3],[1585.3,8.9],[1592.4,7.7],[1599.6,7.3],[1606.7,6.8],[1613.9,6.5],[1619.6,4.8],[1623.9,1.9],[1626.8,0.0]];

const spectra = [
  thin_J00057, thin_J00063, thin_J00292, thin_J00449, thin_J00535, thin_J00573, thin_J01237, thin_J01376, thin_J02019, thin_J03198,
  thin_J00059, thin_J00204, thin_J00392, thin_J00470, thin_J00548, thin_J01032, thin_J01342, thin_J01399, thin_J02171, thin_J03514
];
const fits = [
  fit_J00057, fit_J00063, fit_J00292, fit_J00449, fit_J00535, fit_J00573, fit_J01237, fit_J01376, fit_J02019, fit_J03198,
  fit_J00059, fit_J00204, fit_J00392, fit_J00470, fit_J00548, fit_J01032, fit_J01342, fit_J01399, fit_J02171, fit_J03514
];

// ---- layout
const colLeft = [70, 585];
const panelW = 419;
const top0 = 2.5;
const panelH = 114.15;
const nRows = 10;

const svg = d3.select('body').append('svg')
  .attr('width', 1038)
  .attr('height', 1186);

const x = d3.scaleLinear().domain(xRange).range([0, panelW]);
const xMinorTicks = d3.range(xRange[0], xRange[1] + 1, 10);

const thinLine = d3.line()
  .x(d => x(d[0]));
const fitLine = d3.line()
  .x(d => x(d[0]))
  .curve(d3.curveMonotoneX);

names.forEach((name, i) => {
  const col = Math.floor(i / nRows);
  const row = i % nRows;
  const g = svg.append('g')
    .attr('transform', `translate(${colLeft[col]},${top0 + row * panelH})`);

  const y = d3.scaleLinear().domain(yRanges[i]).range([panelH, 0]);
  const step = yTickSteps[i];
  const minor = step / 5;
  const yMajor = d3.range(0, yRanges[i][1] + 1e-9, step);
  const yMinor = d3.range(Math.ceil(yRanges[i][0] / minor) * minor, yRanges[i][1], minor);

  const clipId = `clip${i}`;
  g.append('clipPath').attr('id', clipId)
    .append('rect').attr('width', panelW).attr('height', panelH);

  const data = g.append('g').attr('clip-path', `url(#${clipId})`);
  data.append('line')
    .attr('class', 'civ')
    .attr('x1', x(lineCenter)).attr('x2', x(lineCenter))
    .attr('y1', 0).attr('y2', panelH);
  data.append('path')
    .datum(spectra[i])
    .attr('class', 'spec')
    .attr('d', thinLine.y(d => y(d[1])));
  data.append('path')
    .datum(fits[i])
    .attr('class', 'fit')
    .attr('d', fitLine.y(d => y(d[1])));

  // axes, ticks pointing inwards on all four sides
  const isBottom = row === nRows - 1;
  g.append('g').attr('transform', `translate(0,${panelH})`)
    .call(d3.axisBottom(x).tickValues(xMinorTicks).tickSize(-8).tickFormat(''));
  g.append('g').attr('transform', `translate(0,${panelH})`)
    .attr('class', isBottom ? 'xlab' : null)
    .call(d3.axisBottom(x).tickValues(xMajorTicks).tickSize(-16).tickPadding(18)
      .tickFormat(isBottom ? d3.format('d') : ''));
  g.append('g')
    .call(d3.axisTop(x).tickValues(xMinorTicks).tickSize(-8).tickFormat(''));
  g.append('g')
    .call(d3.axisTop(x).tickValues(xMajorTicks).tickSize(-16).tickFormat(''));
  g.append('g')
    .call(d3.axisLeft(y).tickValues(yMinor).tickSize(-8).tickFormat(''));
  g.append('g').attr('class', 'ylab')
    .call(d3.axisLeft(y).tickValues(yMajor).tickSize(-16).tickPadding(15).tickFormat(d3.format('d')));
  g.append('g').attr('transform', `translate(${panelW},0)`)
    .call(d3.axisRight(y).tickValues(yMinor).tickSize(-8).tickFormat(''));
  g.append('g').attr('transform', `translate(${panelW},0)`)
    .call(d3.axisRight(y).tickValues(yMajor).tickSize(-16).tickFormat(''));
  g.selectAll('.domain').remove();

  g.append('rect')
    .attr('class', 'frame')
    .attr('width', panelW)
    .attr('height', panelH);

  g.append('text')
    .attr('class', 'name')
    .attr('x', 210)
    .attr('y', 34)
    .text(name);
});
</script>
</body>
</html>
